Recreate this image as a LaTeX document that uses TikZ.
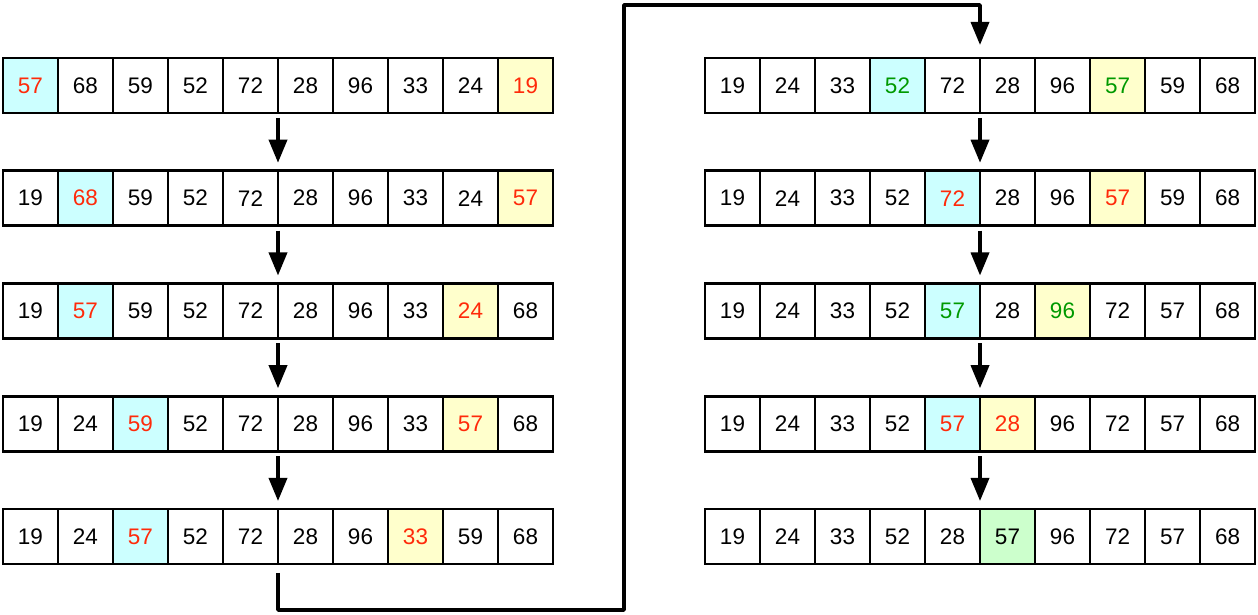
\documentclass[tikz,border=0pt]{standalone}
\usepackage{fontspec}
\setmainfont{Liberation Sans}
\usetikzlibrary{arrows.meta}

\definecolor{cyanfill}{HTML}{CCFFFF}
\definecolor{yelfill}{HTML}{FFFFCC}
\definecolor{grnfill}{HTML}{CCFFCC}
\definecolor{hired}{HTML}{FF2A0A}
\definecolor{higreen}{HTML}{009900}

% one row of ten cells: name, left x, centre y, value/style list
\newcommand{\cellrow}[4]{%
  \foreach \v/\s [count=\i] in {#4} {
    \node[cell,\s] (#1-\i) at ({#2+(\i-0.5)*55},#3) {\v};
  }%
}

\begin{document}
\begin{tikzpicture}[x=1pt, y=1pt,
  cell/.style={draw, line width=2.8pt, minimum size=55pt, inner sep=0pt, outer sep=0pt,
    font=\fontsize{22.5}{26}\selectfont},
  plain/.style={},
  cr/.style={fill=cyanfill, text=hired},
  yr/.style={fill=yelfill, text=hired},
  cg/.style={fill=cyanfill, text=higreen},
  yg/.style={fill=yelfill, text=higreen},
  gb/.style={fill=grnfill},
  link/.style={line width=3.5pt, line join=round, -{Triangle[length=23pt 0 0, width=18pt 0 0]}}]
\useasboundingbox (0,0) rectangle (1258,615);

% Left column
\cellrow{L1}{3}{529.5}{57/cr,68/plain,59/plain,52/plain,72/plain,28/plain,96/plain,33/plain,24/plain,19/yr}
\cellrow{L2}{3}{416.75}{19/plain,68/cr,59/plain,52/plain,72/plain,28/plain,96/plain,33/plain,24/plain,57/yr}
\cellrow{L3}{3}{304}{19/plain,57/cr,59/plain,52/plain,72/plain,28/plain,96/plain,33/plain,24/yr,68/plain}
\cellrow{L4}{3}{191.25}{19/plain,24/plain,59/cr,52/plain,72/plain,28/plain,96/plain,33/plain,57/yr,68/plain}
\cellrow{L5}{3}{78.5}{19/plain,24/plain,57/cr,52/plain,72/plain,28/plain,96/plain,33/yr,59/plain,68/plain}

% Right column
\cellrow{R1}{705}{529.5}{19/plain,24/plain,33/plain,52/cg,72/plain,28/plain,96/plain,57/yg,59/plain,68/plain}
\cellrow{R2}{705}{416.75}{19/plain,24/plain,33/plain,52/plain,72/cr,28/plain,96/plain,57/yr,59/plain,68/plain}
\cellrow{R3}{705}{304}{19/plain,24/plain,33/plain,52/plain,57/cg,28/plain,96/yg,72/plain,57/plain,68/plain}
\cellrow{R4}{705}{191.25}{19/plain,24/plain,33/plain,52/plain,57/cr,28/yr,96/plain,72/plain,57/plain,68/plain}
\cellrow{R5}{705}{78.5}{19/plain,24/plain,33/plain,52/plain,28/plain,57/gb,96/plain,72/plain,57/plain,68/plain}

% Step arrows
\foreach \col in {L, R} {
  \foreach \a [evaluate=\a as \b using int(\a+1)] in {1,...,4} {
    \draw[link] ([yshift=-5pt]\col\a-5.south east) -- ([yshift=8pt]\col\b-5.north east);
  }
}

% Return path from left column to right column
\coordinate (lowturn) at (624,5);
\coordinate (highturn) at (624,610);
\draw[link] ([yshift=-9pt]L5-5.south east) |- (lowturn) -- (highturn) -| ([yshift=13pt]R1-5.north east);
\end{tikzpicture}
\end{document}
